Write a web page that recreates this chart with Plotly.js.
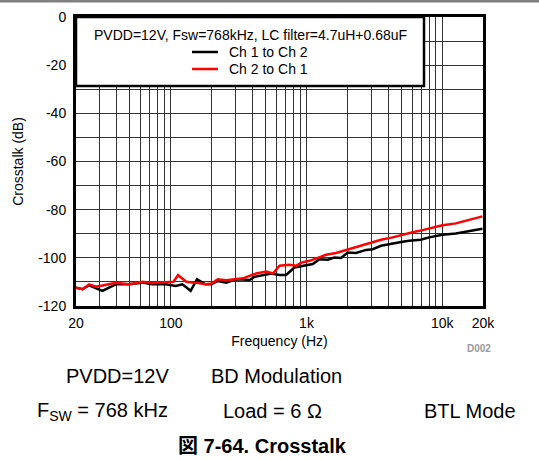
<!DOCTYPE html>
<html><head><meta charset="utf-8">
<script src="https://cdn.plot.ly/plotly-3.0.1.min.js"></script>
<style>html,body{margin:0;padding:0;background:#fff;} #chart{width:539px;height:460px;}</style>
</head><body><div id="chart"></div>
<script>
// ---- data ----
const seriesNames = ['Ch 1 to Ch 2', 'Ch 2 to Ch 1'];
const freqCh1toCh2 = [20, 22.4, 25, 28, 31.3, 39.3, 49.4, 61.8, 73, 92, 108.6, 121.7, 140, 156, 180, 199, 222, 256, 287, 321, 380, 414, 477, 550, 633, 708, 815, 938, 1112, 1245, 1433, 1604, 1797, 2013, 2317, 2747, 3075, 3540, 4310, 5100, 5710, 6960, 8010, 10050, 12600, 15800, 19800];
const crosstalkCh1toCh2 = [-112.4, -113, -111.4, -112.4, -113.7, -111, -111, -110.3, -111, -111, -111.7, -111, -113.7, -108.9, -111, -111, -109.6, -110.3, -109.3, -108.9, -109.2, -107.9, -107.1, -106.5, -107.1, -107.1, -104, -103.3, -102.6, -100.6, -100.8, -99.9, -100.1, -97.8, -98.0, -96.7, -96.4, -95, -94, -93.3, -92.9, -92.5, -91.5, -90.4, -89.9, -88.75, -87.9];
const freqCh2toCh1 = [20, 22.4, 25, 28, 31.3, 39.3, 49.4, 61.8, 73, 92, 104.6, 113, 130, 152, 180, 199, 222, 256, 287, 340, 380, 426, 505, 565, 633, 750, 840, 914, 1052, 1245, 1394, 1652, 1955, 2317, 2905, 3540, 4310, 5100, 6050, 7170, 8490, 10050, 12600, 15800, 19800];
const crosstalkCh2toCh1 = [-112.4, -113, -111, -112, -111.5, -110.4, -111, -109.9, -110.4, -110.1, -109.9, -107.2, -109.9, -110.3, -111, -110.7, -108.9, -109.3, -108.9, -108.5, -107.5, -106.5, -105.7, -106.5, -103.3, -102.9, -103.3, -102, -101.25, -99.9, -98.75, -98, -96.8, -95.7, -94, -92.5, -91.5, -90.4, -89.4, -88.5, -87.4, -86.5, -85.7, -84.2, -82.8];
const xGridValues = [30, 40, 50, 60, 70, 80, 90, 200, 300, 400, 500, 600, 700, 800, 900, 2000, 3000, 4000, 5000, 6000, 7000, 8000, 9000];
const xLabelValues = [20, 100, 1000, 10000, 20000];
const xLabelTexts = ['20', '100', '1k', '10k', '20k'];
const yLabelValues = [-120, -100, -80, -60, -40, -20, 0];
const yLabelTexts = ['-120', '-100', '-80', '-60', '-40', '-20', '0'];
const yGridValues = [-110, -90, -70, -50, -30, -10];
const legendHeader = 'PVDD=12V, Fsw=768kHz, LC filter=4.7uH+0.68uF';
const xTitle = 'Frequency (Hz)';
const yTitle = 'Crosstalk (dB)';
const figureId = 'D002';
const captionRow1 = ['PVDD=12V', 'BD Modulation'];
const captionRow2 = ['F<sub>SW</sub> = 768 kHz', 'Load = 6 Ω', 'BTL Mode'];
const figureCaption = '<b>図 7-64. Crosstalk</b>';

// ---- layout helpers (pixel -> paper) ----
const L = 76, T = 17, W = 407, H = 289;
const PX = x => (x - L) / W;
const PY = y => (T + H - y) / H;
const FONT = 'Arial, "Liberation Sans", "Noto Sans CJK JP", sans-serif';
const GRID = '#333333';

const traces = [
  { x: freqCh1toCh2, y: crosstalkCh1toCh2, name: seriesNames[0], type: 'scatter', mode: 'lines',
    line: { color: '#000000', width: 2.5 } },
  { x: freqCh2toCh1, y: crosstalkCh2toCh1, name: seriesNames[1], type: 'scatter', mode: 'lines',
    line: { color: '#ff0000', width: 2.5 } }
];

const ann = (text, x, y, opts) => Object.assign({ text, xref: 'paper', yref: 'paper', x: PX(x), y: PY(y),
  showarrow: false, xanchor: 'center', yanchor: 'middle', font: { family: FONT, size: 20, color: '#000' } }, opts || {});

const layout = {
  width: 539, height: 460,
  margin: { l: L, r: 539 - L - W, t: T, b: 460 - T - H },
  paper_bgcolor: '#fff', plot_bgcolor: '#fff',
  showlegend: false,
  font: { family: FONT, size: 14, color: '#000' },
  xaxis: {
    type: 'log', range: [Math.log10(20), Math.log10(20000)],
    tickmode: 'array', tickvals: xLabelValues, ticktext: xLabelTexts,
    showgrid: true, gridcolor: GRID, gridwidth: 1,
    minor: { tickmode: 'array', tickvals: xGridValues, showgrid: true, gridcolor: GRID, gridwidth: 1, ticks: '' },
    showline: true, linecolor: '#000', linewidth: 3, mirror: true,
    ticks: 'outside', ticklen: 2, tickcolor: 'rgba(0,0,0,0)',
    tickfont: { family: FONT, size: 14 }, zeroline: false,
    title: { text: xTitle, font: { family: FONT, size: 14 }, standoff: 7 }
  },
  yaxis: {
    range: [-120, 0],
    tickmode: 'array', tickvals: yLabelValues, ticktext: yLabelTexts,
    showgrid: true, gridcolor: GRID, gridwidth: 1,
    minor: { tickmode: 'array', tickvals: yGridValues, showgrid: true, gridcolor: GRID, gridwidth: 1, ticks: '' },
    showline: true, linecolor: '#000', linewidth: 3, mirror: true,
    ticks: 'outside', ticklen: 4, tickcolor: 'rgba(0,0,0,0)',
    tickfont: { family: FONT, size: 14 }, zeroline: false,
    title: { text: yTitle, font: { family: FONT, size: 14 }, standoff: 12 }
  },
  shapes: [
    { type: 'line', xref: 'paper', yref: 'paper', x0: PX(0), x1: PX(539), y0: PY(1), y1: PY(1),
      line: { color: '#7f7f7f', width: 3 }, layer: 'above' },
    { type: 'rect', xref: 'paper', yref: 'paper', x0: PX(76), x1: PX(424), y0: PY(86), y1: PY(17),
      fillcolor: '#fff', line: { color: '#000', width: 2.5 }, layer: 'above' },
    { type: 'line', xref: 'paper', yref: 'paper', x0: PX(192), x1: PX(218), y0: PY(52), y1: PY(52),
      line: { color: '#000', width: 2.5 }, layer: 'above' },
    { type: 'line', xref: 'paper', yref: 'paper', x0: PX(192), x1: PX(218), y0: PY(69), y1: PY(69),
      line: { color: '#ff0000', width: 2.5 }, layer: 'above' }
  ],
  annotations: [
    ann(legendHeader, 250, 35, { font: { family: FONT, size: 14, color: '#000' } }),
    ann(seriesNames[0], 227, 52, { xanchor: 'left', font: { family: FONT, size: 14, color: '#000' } }),
    ann(seriesNames[1], 227, 69, { xanchor: 'left', font: { family: FONT, size: 14, color: '#000' } }),
    ann('<b>' + figureId + '</b>', 479, 348, { font: { family: FONT, size: 10, color: '#9a9a9a' } }),
    ann(captionRow1[0], 117, 376),
    ann(captionRow1[1], 276, 376),
    ann(captionRow2[0], 102, 411),
    ann(captionRow2[1], 272, 411),
    ann(captionRow2[2], 470, 411),
    ann(figureCaption, 262, 446)
  ]
};

Plotly.newPlot('chart', traces, layout, { displayModeBar: false, staticPlot: true });
</script>
</body></html>
